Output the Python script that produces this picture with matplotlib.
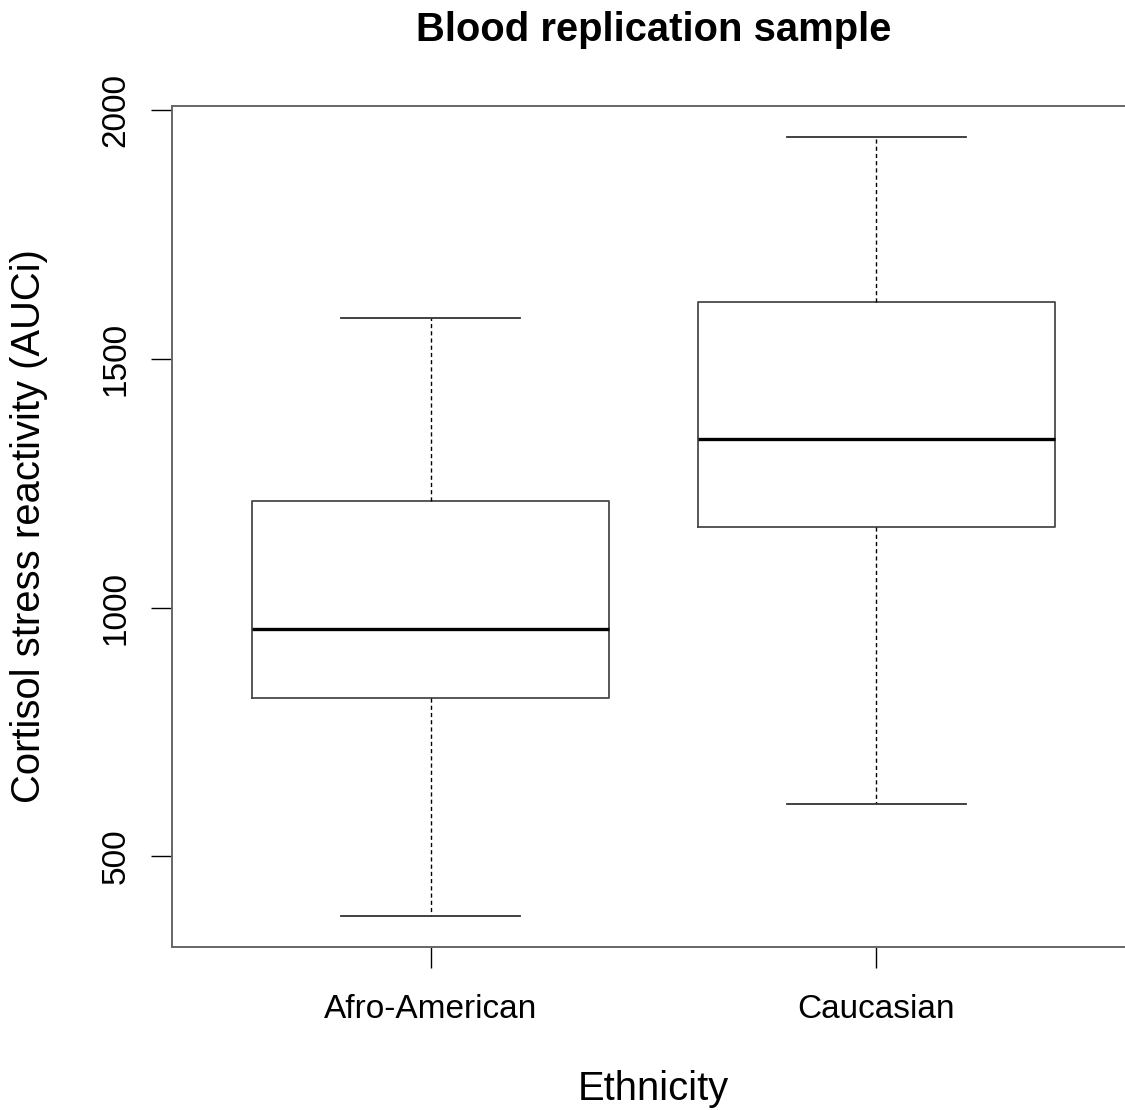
import matplotlib
matplotlib.use("Agg")
import matplotlib.pyplot as plt

plt.rcParams['font.family'] = ['Liberation Sans', 'DejaVu Sans']

# data
groups = ["Afro-American", "Caucasian"]
whisk_lo = [379, 604]
q1 = [818, 1162]
med = [956, 1340]
q3 = [1214, 1614]
whisk_hi = [1582, 1946]

stats = []
for i in range(len(groups)):
    stats.append(dict(label=groups[i], whislo=whisk_lo[i], q1=q1[i], med=med[i],
                      q3=q3[i], whishi=whisk_hi[i], fliers=[]))

fig = plt.figure(figsize=(11.25, 11.1), dpi=100)
W, H = 1125.0, 1110.0
# plot box in pixels: left 172, right 1135 (cut off), top 106, bottom 947
ax = fig.add_axes([172 / W, (H - 947) / H, (1135 - 172) / W, (947 - 106) / H])

box_col = '#4a4a4a'
ax.bxp(stats, positions=[1, 2], widths=0.8, capwidths=0.4, showfliers=False,
       boxprops=dict(color=box_col, linewidth=1.3),
       medianprops=dict(color='black', linewidth=2.4),
       whiskerprops=dict(color='black', linewidth=1.0, linestyle=(0, (3, 2.2))),
       capprops=dict(color='#333333', linewidth=1.3))

ax.set_xlim(0.42, 2.58)
ax.set_ylim(317, 2009)
ax.set_xticks([1, 2])
ax.set_xticklabels(groups)
ax.set_yticks([500, 1000, 1500, 2000])
ax.set_yticklabels(["500", "1000", "1500", "2000"])

for s in ax.spines.values():
    s.set_color('#666666')
    s.set_linewidth(1.4)

ax.tick_params(axis='both', direction='out', length=15, width=1.0, color='black',
               labelsize=24)
ax.tick_params(axis='x', pad=19)
ax.tick_params(axis='y', pad=14, labelrotation=90)
for lab in ax.get_yticklabels():
    lab.set_va('center')
    lab.set_ha('right')

ax.set_title("Blood replication sample", fontsize=28.8, fontweight='bold', pad=47)

ax.set_xlabel("Ethnicity", fontsize=28.8)
ax.xaxis.set_label_coords(0.5, (947 - 1100) / 841.0)
ax.xaxis.label.set_va('baseline')

ax.set_ylabel("Cortisol stress reactivity (AUCi)", fontsize=28.8)
ax.yaxis.set_label_coords((29 - 172) / 963.0, 0.5)
ax.yaxis.label.set_va('center')

fig.savefig("out.png", dpi=100)
